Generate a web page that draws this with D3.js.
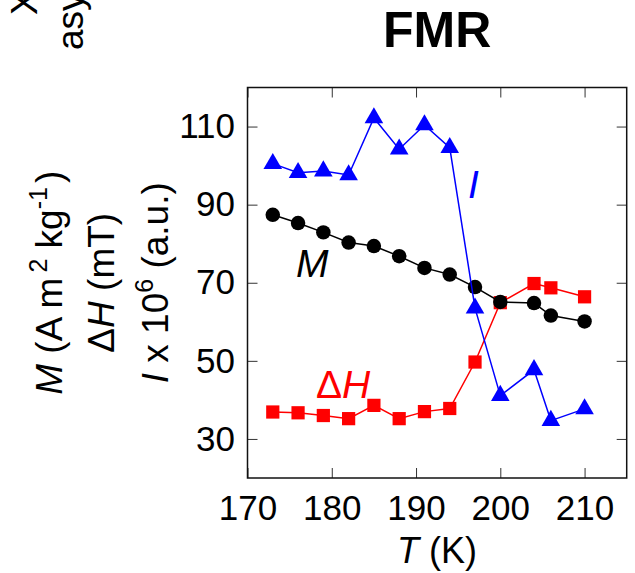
<!DOCTYPE html>
<html>
<head>
<meta charset="utf-8">
<script src="https://cdn.jsdelivr.net/npm/d3@7"></script>
<style>
  body { margin: 0; background: #fff; }
  text { font-family: "Liberation Sans", Arial, sans-serif; }
</style>
</head>
<body>
<div id="chart"></div>
<script>
// FMR panel: M, dH and I against temperature

// data
var temps  = [173, 176, 179, 182, 185, 188, 191, 194, 197, 200, 204, 206, 210];
var magM   = [87.4, 85.3, 82.9, 80.3, 79.4, 76.8, 73.8, 72.1, 68.9, 65.1, 64.8, 61.6, 60.1];
var widthH = [36.9, 36.7, 36.0, 35.2, 38.6, 35.2, 37.0, 37.8, 49.7, 64.9, 69.8, 68.7, 66.4];
var intI   = [100.5, 98.2, 98.6, 97.6, 112.2, 104.2, 110.4, 104.6, 63.5, 41.1, 47.7, 34.7, 37.7];
var xTicks = [170, 180, 190, 200, 210];
var yTicks = [30, 50, 70, 90, 110];

// drawing area
var W = 635, H = 573;
var plot = { left: 247.5, right: 626.7, top: 87.5, bottom: 478 };

var svg = d3.select("#chart")
    .append("svg")
    .attr("width", W)
    .attr("height", H);

// scales
var xScale = d3.scaleLinear().domain([170, 215]).range([plot.left, plot.right]);
var yScale = d3.scaleLinear().domain([20, 120]).range([plot.bottom, plot.top]);

// axes, ticks pointing inward
var tickFont = 35;
function styleAxis(g, showText) {
    g.select(".domain").remove();
    g.selectAll(".tick line").attr("stroke", "#333").attr("stroke-width", 1);
    g.selectAll(".tick text")
        .attr("fill", "#000")
        .attr("font-size", tickFont + "px")
        .attr("font-family", "'Liberation Sans', Arial, sans-serif");
    if (!showText) g.selectAll(".tick text").remove();
}

svg.append("g")
    .attr("transform", "translate(0," + plot.bottom + ")")
    .call(d3.axisBottom(xScale).tickValues(xTicks).tickSize(-10).tickPadding(17))
    .call(styleAxis, true);

svg.append("g")
    .attr("transform", "translate(0," + plot.top + ")")
    .call(d3.axisTop(xScale).tickValues(xTicks).tickSize(-10))
    .call(styleAxis, false);

svg.append("g")
    .attr("transform", "translate(" + plot.left + ",0)")
    .call(d3.axisLeft(yScale).tickValues(yTicks).tickSize(-10).tickPadding(12.5))
    .call(styleAxis, true);

svg.append("g")
    .attr("transform", "translate(" + plot.right + ",0)")
    .call(d3.axisRight(yScale).tickValues(yTicks).tickSize(-10))
    .call(styleAxis, false);

// frame
svg.append("rect")
    .attr("x", plot.left)
    .attr("y", plot.top)
    .attr("width", plot.right - plot.left)
    .attr("height", plot.bottom - plot.top)
    .attr("fill", "none")
    .attr("stroke", "#111")
    .attr("stroke-width", 1.5);

// series: red squares, black circles, blue triangles (drawn in that order)
var line = d3.line()
    .x(function(d) { return xScale(d[0]); })
    .y(function(d) { return yScale(d[1]); });

function series(vals, color, symbolType, size) {
    var pts = temps.map(function(t, i) { return [t, vals[i]]; });
    svg.append("path")
        .datum(pts)
        .attr("d", line)
        .attr("fill", "none")
        .attr("stroke", color)
        .attr("stroke-width", 1.5);
    svg.selectAll(null)
        .data(pts)
        .enter()
        .append("path")
        .attr("d", d3.symbol().type(symbolType).size(size))
        .attr("transform", function(d) {
            return "translate(" + xScale(d[0]) + "," + yScale(d[1]) + ")";
        })
        .attr("fill", color);
}

series(widthH, "#ff0000", d3.symbolSquare, 175);
series(magM, "#000000", d3.symbolCircle, 165);
series(intI, "#0000ff", d3.symbolTriangle, 150);

// in-plot series labels
svg.append("text")
    .attr("x", 468).attr("y", 198)
    .attr("font-size", "39px").attr("font-style", "italic")
    .attr("fill", "#0000ff")
    .text("I");

svg.append("text")
    .attr("x", 296).attr("y", 277)
    .attr("font-size", "39px").attr("font-style", "italic")
    .attr("fill", "#000")
    .text("M");

var dh = svg.append("text")
    .attr("x", 316).attr("y", 398)
    .attr("font-size", "39px")
    .attr("fill", "#ff0000");
dh.append("tspan").text("\u0394");
dh.append("tspan").attr("font-style", "italic").text("H");

// title
svg.append("text")
    .attr("x", (plot.left + plot.right) / 2)
    .attr("y", 47)
    .attr("text-anchor", "middle")
    .attr("font-size", "50px")
    .attr("font-weight", "bold")
    .text("FMR");

// x axis label
var xl = svg.append("text")
    .attr("x", (plot.left + plot.right) / 2)
    .attr("y", 563)
    .attr("text-anchor", "middle")
    .attr("font-size", "36px");
xl.append("tspan").attr("font-style", "italic").text("T");
xl.append("tspan").text(" (K)");

// y axis label, three rotated lines
var yMid = (plot.top + plot.bottom) / 2;
var labFont = 37;
function yLine(xBase) {
    return svg.append("text")
        .attr("transform", "translate(" + xBase + "," + yMid + ") rotate(-90)")
        .attr("text-anchor", "middle")
        .attr("font-size", labFont + "px");
}

var l1 = yLine(62);
l1.append("tspan").attr("font-style", "italic").text("M");
l1.append("tspan").text(" (A m");
l1.append("tspan").attr("font-size", "25px").attr("dx", 5).attr("dy", "-15").text("2");
l1.append("tspan").attr("dy", "15").text(" kg");
l1.append("tspan").attr("font-size", "25px").attr("dy", "-15").text("-1");
l1.append("tspan").attr("dx", 4).attr("dy", "15").text(")");

var l2 = yLine(114);
l2.append("tspan").text("\u0394");
l2.append("tspan").attr("font-style", "italic").text("H");
l2.append("tspan").text(" (mT)");

var l3 = yLine(168);
l3.append("tspan").attr("font-style", "italic").text("I");
l3.append("tspan").text(" x 10");
l3.append("tspan").attr("font-size", "25px").attr("dy", "-15").text("6");
l3.append("tspan").attr("dy", "15").text(" (a.u.)");

// fragments of the neighbouring panel's label, cut by the page edge
svg.append("text")
    .attr("transform", "translate(37,15) rotate(-90)")
    .attr("font-size", labFont + "px")
    .text("XMCD");
svg.append("text")
    .attr("transform", "translate(83,50) rotate(-90)")
    .attr("font-size", labFont + "px")
    .text("asymmetry");
</script>
</body>
</html>
